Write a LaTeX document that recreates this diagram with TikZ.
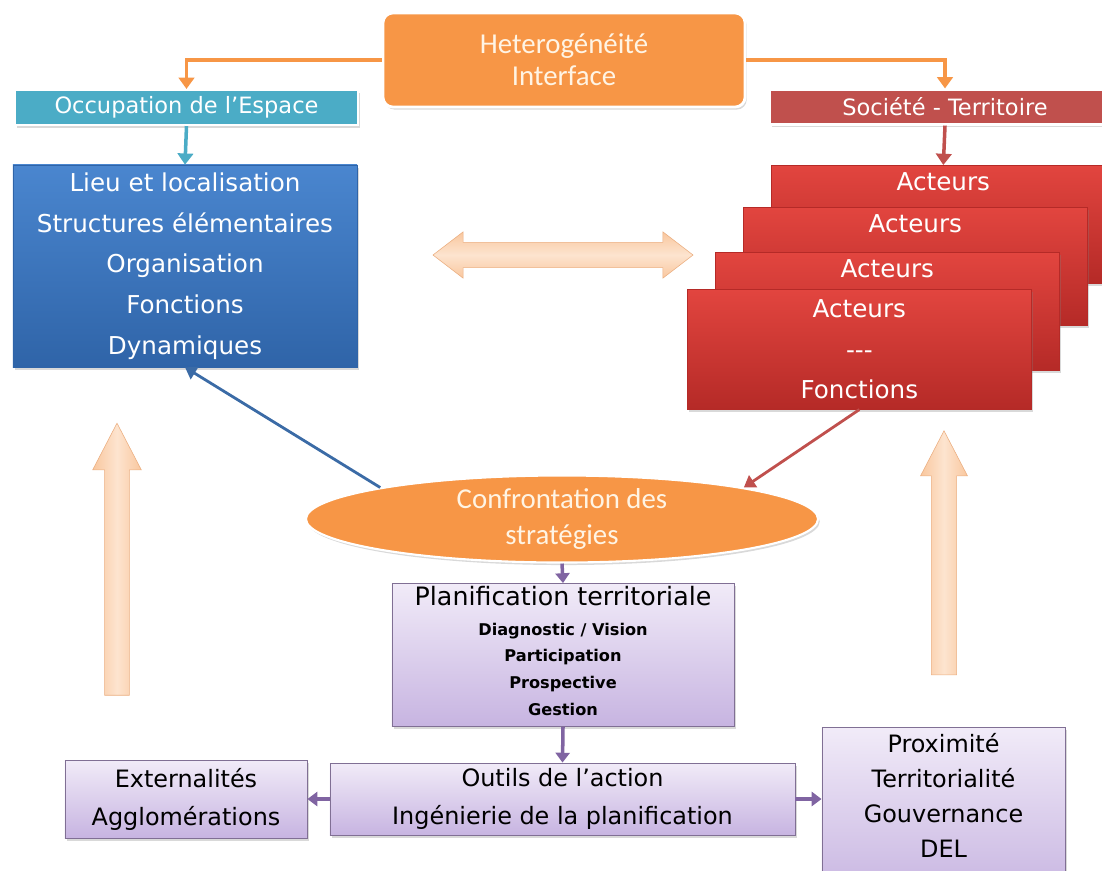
\documentclass[tikz,border=0pt]{standalone}
\usepackage{fontspec}
\usetikzlibrary{shapes.geometric,shapes.arrows,shadows,arrows.meta}
\newfontfamily\comicfont{DejaVu Sans}
\newfontfamily\calibfont{Carlito}
\definecolor{orangeA}{HTML}{F79646}
\definecolor{tealA}{HTML}{4BACC6}
\definecolor{blueA}{HTML}{4A86CF}
\definecolor{blueB}{HTML}{2F64A8}
\definecolor{redA}{HTML}{C0504D}
\definecolor{redB}{HTML}{E2453F}
\definecolor{redC}{HTML}{B52A27}
\definecolor{lilacA}{HTML}{F1EBF8}
\definecolor{lilacB}{HTML}{C7B4E1}
\definecolor{purpleA}{HTML}{8064A2}
\definecolor{peachA}{HTML}{FDE4CF}
\definecolor{peachB}{HTML}{F9C79E}
\definecolor{peachD}{HTML}{EBAE80}
\definecolor{creamA}{HTML}{FFF4E4}
\begin{document}
\begin{tikzpicture}[x=0.025cm, y=-0.025cm,
    boxshadow/.style={drop shadow={shadow xshift=1.2pt, shadow yshift=-1.8pt, opacity=0.3}},
    hdrbox/.style={rectangle, draw=white, line width=1.5pt, boxshadow, text=white,
        font=\comicfont\fontsize{16}{20}\selectfont, minimum height=0.875cm, inner sep=0pt},
    bluebox/.style={rectangle, top color=blueA, bottom color=blueB, draw=blueB, boxshadow,
        text=white, align=center, font=\comicfont\fontsize{17.5}{29}\selectfont,
        minimum width=8.6cm, minimum height=5.05cm, inner sep=0pt},
    redbox/.style={rectangle, top color=redB, bottom color=redC, draw=redC, boxshadow,
        text=white, align=center, font=\comicfont\fontsize{17.5}{29}\selectfont,
        minimum width=8.6cm, inner ysep=0pt, anchor=north west},
    lilacbox/.style={rectangle, top color=lilacA, bottom color=lilacB, draw=purpleA!60!gray,
        line width=0.6pt, boxshadow, align=center,
        font=\comicfont\fontsize{17}{27}\selectfont, inner sep=0pt},
    bigarrow/.style={single arrow, draw=peachD, left color=peachB, right color=peachB,
        middle color=peachA, inner sep=0.3cm, single arrow head extend=0.3cm,
        single arrow tip angle=55, shape border rotate=90},
    orgline/.style={draw=orangeA, line width=2.5pt, -{Triangle[width=11pt,length=8pt]}},
    tealline/.style={draw=tealA, line width=2.5pt, -{Triangle[width=11pt,length=8pt]}},
    redline/.style={draw=redA, line width=2.5pt, -{Triangle[width=11pt,length=8pt]}},
    thinline/.style={line width=2pt, -{Triangle[width=10pt,length=8pt]}},
    lilacline/.style={draw=purpleA, line width=2.5pt, -{Triangle[width=10pt,length=7pt]}}]
    \useasboundingbox (0,0) rectangle (1102,870);

    % Top box and the two headers
    \node[rectangle, rounded corners=7pt, fill=orangeA, draw=white, line width=2pt, boxshadow,
        text=creamA, align=center, font=\calibfont\fontsize{20.5}{23}\selectfont,
        minimum width=9.05cm, minimum height=2.35cm] (hetero) at (564,60)
        {Heterogénéité\\Interface};
    \node[hdrbox, fill=tealA, minimum width=8.575cm] (occup) at (186.5,107.5) {Occupation de l’Espace};
    \node[hdrbox, fill=redA, minimum width=8.75cm] (societe) at (945,107) {Société - Territoire};
    \draw[orgline] (hetero.west) -| (occup.north);
    \draw[orgline] (hetero.east) -| (societe.north);

    % Espace side
    \node[bluebox] (espace) at (185,266)
        {Lieu et localisation\\Structures élémentaires\\Organisation\\Fonctions\\Dynamiques};
    \draw[tealline] (occup.south) -- (espace.north);

    % Acteurs, stacked from back to front
    \node[redbox, text height=0.625cm, text depth=2.325cm] (act1) at (771,165) {Acteurs};
    \node[redbox, text height=0.625cm, text depth=2.325cm] (act2) at (743,207) {Acteurs};
    \node[redbox, text height=0.625cm, text depth=2.325cm] (act3) at (715,252) {Acteurs};
    \node[redbox, minimum height=3cm] (act4) at (687,289) {Acteurs\\---\\Fonctions};
    \draw[redline] (societe.south) -- (act1.north);

    % Big light arrows
    \node[bigarrow, shape border rotate=0, single arrow=false, double arrow,
        double arrow head extend=0.26cm, double arrow tip angle=75, inner sep=0.31cm,
        top color=peachB, bottom color=peachB, middle color=peachA,
        minimum height=6.5cm] (lien) at (563,255) {};
    \node[bigarrow, minimum height=6.8cm] (upL) at (117,571) {};
    \node[bigarrow, inner sep=0.31cm, single arrow head extend=0.27cm,
        minimum height=6.1cm] (upR) at (944,565) {};

    % Confrontation
    \node[ellipse, fill=orangeA, draw=white, line width=1.5pt, boxshadow, inner sep=0pt,
        text=creamA, align=center, font=\calibfont\fontsize{20.5}{26}\selectfont,
        minimum width=12.8cm, minimum height=2.125cm] (confront) at (562,519)
        {Confrontation des\\stratégies};
    \draw[thinline, draw=blueA!80!black] (confront.north west) -- (espace.south);
    \draw[thinline, draw=redA] (act4.south) -- (confront.north east);

    % Planification and tools
    \node[lilacbox, font=\comicfont\bfseries\fontsize{11.5}{19}\selectfont,
        minimum width=8.55cm, minimum height=3.575cm] (plan) at (563,655)
        {{\mdseries\fontsize{18}{22}\selectfont Planification territoriale}\\[2pt]
         Diagnostic / Vision\\Participation\\Prospective\\Gestion\\[-13pt]\mbox{}};
    \node[lilacbox, minimum width=11.625cm, minimum height=1.8cm] (outils) at (562.5,799)
        {Outils de l’action\\Ingénierie de la planification};
    \node[lilacbox, minimum width=6.05cm, minimum height=1.95cm] (extern) at (186,799)
        {Externalités\\Agglomérations};
    \node[lilacbox, font=\comicfont\fontsize{17}{25}\selectfont, anchor=north, inner ysep=4pt,
        minimum width=6.075cm] (proxi) at (943.5,727)
        {Proximité\\Territorialité\\Gouvernance\\DEL\\ \mbox{}};
    \draw[lilacline] (confront.south) -- (plan.north);
    \draw[lilacline] (plan.south) -- (outils.north);
    \draw[lilacline] (outils.west) -- (extern.east);
    \draw[lilacline] (outils.east) -- (outils.east -| proxi.west);
\end{tikzpicture}
\end{document}
